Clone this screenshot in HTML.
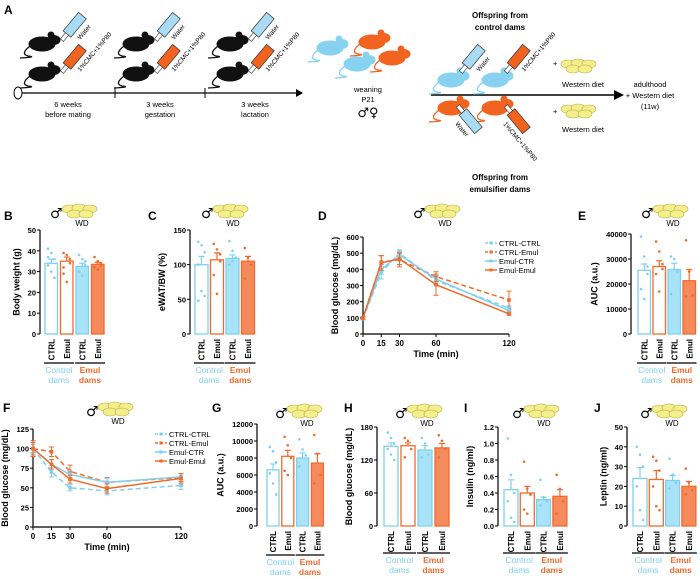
<!DOCTYPE html>
<html><head><meta charset="utf-8"><style>
body{margin:0;background:#fff}
svg{display:block;font-family:"Liberation Sans","DejaVu Sans",sans-serif}
</style></head><body>
<svg id="fig" width="700" height="579" viewBox="0 0 700 579" font-weight="bold" xmlns="http://www.w3.org/2000/svg">
<defs>
<g id="mouse"><ellipse cx="0" cy="0" rx="13" ry="7"/><ellipse cx="12" cy="-4" rx="6" ry="4.5"/><circle cx="9" cy="-9" r="3"/><path d="M-12 2 Q-22 10 -14 12 Q-4 13 -22 14" fill="none" stroke-width="1.3"/></g>
<g id="blob"><ellipse cx="6" cy="4" rx="7" ry="4"/><ellipse cx="16" cy="3" rx="7" ry="4"/><ellipse cx="27" cy="4" rx="7" ry="4"/><ellipse cx="11" cy="9" rx="7" ry="4"/><ellipse cx="23" cy="9" rx="7" ry="4"/></g>
</defs>
<g id="panelA" font-size="7.5">
<text x="4" y="14" font-size="12">A</text>
<line x1="22" y1="93" x2="296" y2="93" stroke="#000" stroke-width="1.3"/>
<path d="M296 89 L303 93 L296 97Z" fill="#000"/>
<ellipse cx="18" cy="93" rx="4" ry="6" fill="#fff" stroke="#000"/>
<line x1="115" y1="88" x2="115" y2="98" stroke="#000"/><line x1="205" y1="88" x2="205" y2="98" stroke="#000"/>
<g text-anchor="middle" font-weight="normal">
<text x="68" y="107">6 weeks</text><text x="68" y="117">before mating</text>
<text x="160" y="107">3 weeks</text><text x="160" y="117">gestation</text>
<text x="255" y="107">3 weeks</text><text x="255" y="117">lactation</text>
</g>
<g id="damsMice"></g>
<g fill="#86d2f0" stroke="#86d2f0">
<use href="#mouse" x="330" y="48"/><use href="#mouse" x="357" y="64"/></g>
<g fill="#f2631f" stroke="#f2631f">
<use href="#mouse" x="372" y="42"/><use href="#mouse" x="392" y="58"/></g>
<g font-weight="normal" text-anchor="middle">
<text x="368" y="92">weaning</text>
<text x="368" y="102">P21</text>
<text x="368" y="117" font-size="13" font-family="DejaVu Sans, sans-serif">♂♀</text>
</g>
<text x="500" y="18" text-anchor="middle" font-size="8">Offspring from</text>
<text x="500" y="30" text-anchor="middle" font-size="8">control dams</text>
<line x1="431" y1="95" x2="615" y2="95" stroke="#000" stroke-width="1.6"/>
<path d="M614 90 L624 95 L614 100Z" fill="#000"/>
<g fill="#86d2f0" stroke="#86d2f0"><use href="#mouse" x="451" y="80"/><use href="#mouse" x="495" y="80"/></g>
<g fill="#f2631f" stroke="#f2631f"><use href="#mouse" x="451" y="108"/><use href="#mouse" x="495" y="108"/></g>
<g id="offSyr"></g>
<g font-weight="normal">
<text x="553" y="66">+</text><text x="553" y="114">+</text>
<text x="583" y="87" text-anchor="middle">Western diet</text>
<text x="583" y="132" text-anchor="middle">Western diet</text>
<text x="650" y="87" text-anchor="middle">adulthood</text>
<text x="650" y="98" text-anchor="middle">+ Western diet</text>
<text x="650" y="109" text-anchor="middle">(11w)</text>
</g>
<g fill="#f4ef8c" stroke="#b5ad3c" stroke-width="0.6"><use href="#blob" x="562" y="60"/><use href="#blob" x="562" y="105"/></g>
<text x="500" y="180" text-anchor="middle" font-size="8">Offspring from</text>
<text x="500" y="192" text-anchor="middle" font-size="8">emulsifier dams</text>
</g>
<g id="charts"></g>
</svg>
<script>
// ---- data ----
const barCats = ["CTRL","Emul","CTRL","Emul"];
const groupLabels = ["Control","Emul"];
const bVals=[34,35,32.5,33.5], bErr=[2,2,1.5,1];
const bPts=[[41,39,36,33,30,27,37],[39,38,36,32,25,34,29],[38,36,33,30,28,35],[37,35,33,32,31,34]];
const cVals=[100,107,109,105], cErr=[12,10,5,7];
const cPts=[[133,128,118,100,62,55,48],[130,122,105,85,58,115],[134,120,110,100,105],[124,110,100,80]];
const eVals=[25500,27000,25800,21300], eErr=[2500,2300,2500,4500];
const ePts=[[39000,31000,24000,18000,14000,27000],[37000,33000,28000,24000,17000,26000],[31000,30000,25000,16000],[37500,25000,15500,15000]];
const gVals=[6600,8200,8000,7400], gErr=[700,700,600,1100];
const gPts=[[9300,8800,7500,6200,5000,3700],[10500,9500,8000,6500,6000],[10200,9000,8300,7000],[10700,8500,6000,5000]];
const hVals=[145,146,138,142], hErr=[6,5,8,8];
const hPts=[[170,160,150,140,130,120],[160,155,140,125],[160,150,130,125],[165,155,140,125]];
const iVals=[0.44,0.40,0.32,0.36], iErr=[0.12,0.08,0.03,0.08];
const iPts=[[1.06,0.62,0.4,0.3,0.1,0.05],[0.78,0.45,0.38,0.2,0.15],[0.56,0.35,0.3,0.25],[0.62,0.45,0.3,0.15]];
const jVals=[24,23.5,23,20], jErr=[5.5,4.5,2.5,2.5];
const jPts=[[40,36,30,20,8,3],[35,33,28,20,10,8],[34,26,22,19],[29,22,18,16]];
const bTicks=[0,10,20,30,40,50], cTicks=[0,50,100,150], eTicks=[0,10000,20000,30000,40000];
const gTicks=[0,2000,4000,6000,8000,10000,12000], hTicks=[0,60,120,180];
const iTicks=[0,0.2,0.4,0.6,0.8,1.0,1.2], jTicks=[0,10,20,30,40,50];
const times=[0,15,30,60,120];
const seriesNames=["CTRL-CTRL","CTRL-Emul","Emul-CTR","Emul-Emul"];
const dS1=[95,380,500,330,160], dS2=[100,445,460,355,210], dS3=[100,400,490,340,145], dS4=[100,440,465,305,125];
const dE=[[8,40,20,25,15],[8,40,45,30,55],[8,30,25,20,20],[8,45,35,65,10]];
const fS1=[100,70,50,46,53], fS2=[100,96,71,57,63], fS3=[100,80,67,57,64], fS4=[100,80,61,49,62];
const fE=[[6,6,4,5,5],[10,6,8,6,5],[5,6,5,5,4],[8,6,5,6,6]];
const dTicks=[0,100,200,300,400,500,600], fTicks=[0,25,50,75,100,125];

const NS="http://www.w3.org/2000/svg";
const root=document.getElementById('charts');
const BL="#7fd0ef", OR="#f26a2a", BLF="#a9e3f7", ORF="#f58a5d";
function mk(tag,attrs,parent){const e=document.createElementNS(NS,tag);for(const k in attrs)e.setAttribute(k,attrs[k]);(parent||root).appendChild(e);return e;}
function txt(s,x,y,attrs,parent){const t=mk('text',Object.assign({x:x,y:y},attrs||{}),parent);t.textContent=s;return t;}
function icon(g,x,y){
  txt('♂',x-2,y+2,{'font-size':14,'font-weight':'normal','font-family':'DejaVu Sans, sans-serif'},g);
  mk('use',{href:'#blob',x:x+11,y:y-11,fill:'#f4ef8c',stroke:'#b5ad3c','stroke-width':0.6},g);
  txt('WD',x+30,y+10,{'font-size':8,'font-weight':'normal','text-anchor':'middle'},g);
}
function yAxis(g,ax,yt,yb,ticks,fmtF,title){
  const max=ticks[ticks.length-1];
  const Y=v=>yb-(v/max)*(yb-yt);
  mk('line',{x1:ax,y1:yt,x2:ax,y2:yb,stroke:'#000','stroke-width':1.2},g);
  ticks.forEach(t=>{mk('line',{x1:ax-3,y1:Y(t),x2:ax,y2:Y(t),stroke:'#000','stroke-width':1},g);
    txt(fmtF(t),ax-4,Y(t)+3,{'font-size':7.5,'text-anchor':'end'},g);});
  const tt=txt(title,0,0,{'font-size':9,'text-anchor':'middle',transform:`translate(${ax-(fmtF(max).length*4.3+12)},${(yt+yb)/2}) rotate(-90)`},g);
  
  
  return Y;
}
function barPanel(c){
  const g=mk('g',{});
  
  
  txt(c.id.toUpperCase(),c.lx,c.ly,{'font-size':12},g);
  icon(g,c.ix,c.iy);
  const Y=yAxis(g,c.ax,c.yt,c.yb,c.ticks,c.fmt||String,c.title);
  c.vals.forEach((v,i)=>{
    const x=c.bx+i*c.step, filled=i>=2, col=(i%2===0)?BL:OR;
    const r=mk('rect',{x:x,y:Y(v),width:c.bw,height:c.yb-Y(v),fill:filled?(i===2?BLF:ORF):'#fff',stroke:col,'stroke-width':1.3},g);
    
    
    const cx=x+c.bw/2, e=c.err[i];
    mk('path',{d:`M${cx} ${Y(v)} V${Y(v+e)} M${cx-3} ${Y(v+e)} H${cx+3}`,stroke:col,'stroke-width':1.2,fill:'none'},g);
    c.pts[i].forEach((p,j)=>{const d=mk('circle',{cx:cx+((j%3)-1)*3.2,cy:Y(p),r:1.3,fill:col},g);
      
      });
    txt(barCats[i],cx+3,c.yb+5,{'font-size':8,'text-anchor':'end',transform:`rotate(-90 ${cx+3} ${c.yb+5})`},g);
  });
  [0,1].forEach(k=>{
    const x1=c.bx+k*2*c.step-1, x2=c.bx+(k*2+1)*c.step+c.bw+1;
    mk('line',{x1:x1,y1:c.yb+c.ul,x2:x2,y2:c.yb+c.ul,stroke:'#000','stroke-width':1.2},g);
    const col=k===0?BL:OR, cx=(x1+x2)/2;
    txt(groupLabels[k],cx,c.yb+c.ul+10,{'font-size':8.5,'text-anchor':'middle',fill:col,'font-weight':k?'bold':'normal'},g);
    txt('dams',cx,c.yb+c.ul+20,{'font-size':8.5,'text-anchor':'middle',fill:col,'font-weight':k?'bold':'normal'},g);
  });
}
function linePanel(c){
  const g=mk('g',{});
  
  
  txt(c.id.toUpperCase(),c.lx,c.ly,{'font-size':12},g);
  icon(g,c.ix,c.iy);
  const Y=yAxis(g,c.x0,c.yt,c.yb,c.ticks,String,'Blood glucose (mg/dL)');
  const X=t=>c.x0+t/120*(c.x1-c.x0);
  mk('line',{x1:c.x0,y1:c.yb,x2:c.x1,y2:c.yb,stroke:'#000','stroke-width':1.2},g);
  times.forEach(t=>{mk('line',{x1:X(t),y1:c.yb,x2:X(t),y2:c.yb+3,stroke:'#000'},g);txt(String(t),X(t),c.yb+12,{'font-size':8,'text-anchor':'middle'},g);});
  txt('Time (min)',(c.x0+c.x1)/2,c.yb+23,{'font-size':9,'text-anchor':'middle'},g);
  const cols=[BL,OR,BL,OR], dash=['5,3','5,3','',''];
  c.series.forEach((s,k)=>{
    const d=s.map((v,i)=>(i?'L':'M')+X(times[i])+' '+Y(v)).join(' ');
    const p=mk('path',{d:d,fill:'none',stroke:cols[k],'stroke-width':1.5,'stroke-dasharray':dash[k]},g);
    
    
    s.forEach((v,i)=>{const x=X(times[i]),e=c.err[k][i];
      mk('path',{d:`M${x} ${Y(v-e)}V${Y(v+e)}M${x-2.5} ${Y(v+e)}H${x+2.5}M${x-2.5} ${Y(v-e)}H${x+2.5}`,stroke:cols[k],'stroke-width':1},g);
      mk('rect',{x:x-1.8,y:Y(v)-1.8,width:3.6,height:3.6,fill:cols[k]},g);});
    const ly=c.ly0+k*9;
    mk('line',{x1:c.lgx,y1:ly,x2:c.lgx+12,y2:ly,stroke:cols[k],'stroke-width':1.5,'stroke-dasharray':dash[k]?'3,2':''},g);
    mk('rect',{x:c.lgx+4.5,y:ly-1.5,width:3,height:3,fill:cols[k]},g);
    const lt=txt(seriesNames[k],c.lgx+14,ly+3,{'font-size':7.5,'font-weight':'normal'},g);
    
    
  });
}
const f1=v=>v.toFixed(1);
barPanel({id:'b',lx:4,ly:220,ix:52,iy:216,ax:40,yt:230,yb:334,ticks:bTicks,vals:bVals,err:bErr,pts:bPts,bx:45,step:15.5,bw:12.5,ul:29,title:'Body weight (g)'});
barPanel({id:'c',lx:148,ly:220,ix:203,iy:216,ax:190,yt:230,yb:334,ticks:cTicks,vals:cVals,err:cErr,pts:cPts,bx:195,step:15.5,bw:13,ul:29,title:'eWAT/BW (%)'});
barPanel({id:'e',lx:578,ly:220,ix:643,iy:216,ax:631,yt:234,yb:334,ticks:eTicks,vals:eVals,err:eErr,pts:ePts,bx:638,step:15,bw:12.5,ul:29,title:'AUC (a.u.)'});
barPanel({id:'g',lx:212,ly:412,ix:277,iy:416,ax:257,yt:424,yb:526,ticks:gTicks,vals:gVals,err:gErr,pts:gPts,bx:267,step:14.8,bw:12,ul:29,title:'AUC (a.u.)'});
barPanel({id:'h',lx:344,ly:412,ix:397,iy:416,ax:377,yt:427,yb:526,ticks:hTicks,vals:hVals,err:hErr,pts:hPts,bx:384,step:17,bw:14,ul:27,title:'Blood glucose (mg/dL)'});
barPanel({id:'i',lx:464,ly:412,ix:514,iy:416,ax:498,yt:427,yb:526,ticks:iTicks,vals:iVals,err:iErr,pts:iPts,bx:504,step:16.3,bw:14,ul:27,fmt:f1,title:'Insulin (ng/ml)'});
barPanel({id:'j',lx:594,ly:412,ix:642,iy:416,ax:627,yt:427,yb:526,ticks:jTicks,vals:jVals,err:jErr,pts:jPts,bx:633,step:16.3,bw:14,ul:27,title:'Leptin (ng/ml)'});
linePanel({id:'d',lx:318,ly:220,ix:415,iy:216,x0:363,x1:509,yt:237,yb:334,ticks:dTicks,series:[dS1,dS2,dS3,dS4],err:dE,lgx:485,ly0:243});
linePanel({id:'f',lx:3,ly:412,ix:88,iy:414,x0:33,x1:181,yt:429,yb:527,ticks:fTicks,series:[fS1,fS2,fS3,fS4],err:fE,lgx:155,ly0:434});
// schematic mice & syringes
const dm=document.getElementById('damsMice');
[42,136,230].forEach(x=>{[44,74].forEach(y=>{mk('use',{href:'#mouse',x:x,y:y,fill:'#111',stroke:'#111'},dm);});});
function syringe(par,x,y,col,label,ang){
  const g=mk('g',{transform:`translate(${x},${y}) rotate(${ang})`},par);
  mk('rect',{x:0,y:-5,width:24,height:10,fill:col,stroke:'#333','stroke-width':0.7},g);
  mk('rect',{x:-8,y:-2,width:8,height:4,fill:'#fff',stroke:'#333','stroke-width':0.6},g);
  txt(label,4,14,{'font-size':6.5,'font-weight':'normal'},g);
}
[67,161,255].forEach(x=>{syringe(dm,x,34,'#a9dcf4','Water',-50);syringe(dm,x,66,'#f2631f','1%CMC+1%P80',-50);});
const os=document.getElementById('offSyr');
syringe(os,466,66,'#a9dcf4','Water',-50);syringe(os,511,66,'#f2631f','1%CMC+1%P80',-50);
syringe(os,463,112,'#a9dcf4','Water',50);syringe(os,511,112,'#f2631f','1%CMC+1%P80',50);
</script>
</body></html>
